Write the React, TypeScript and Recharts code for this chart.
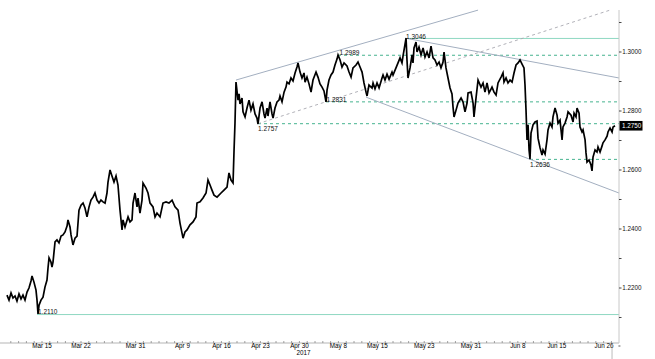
import React from 'react';
import { ComposedChart, Line, XAxis, YAxis, ReferenceLine, ReferenceDot } from 'recharts';

type Pt = [number, number];

// [trading-day index (Mar 9 = 0), GBP/USD price]
const marchPath: Pt[] = [
  [-0.49, 1.2176], [-0.23, 1.2159], [0.03, 1.2183], [0.28, 1.2166], [0.54, 1.2173], [0.79, 1.2156],
  [1.05, 1.218], [1.31, 1.2163], [1.56, 1.2176], [1.82, 1.2159], [2.08, 1.2186], [2.33, 1.22],
  [2.59, 1.2224], [2.72, 1.2241], [2.97, 1.222], [3.23, 1.2193], [3.36, 1.2159], [3.49, 1.2112],
  [3.62, 1.2142], [3.87, 1.2159], [4.13, 1.2169], [4.38, 1.2203], [4.64, 1.2227], [4.77, 1.2268],
  [4.9, 1.2302], [5.15, 1.2288], [5.28, 1.2271], [5.41, 1.2288], [5.67, 1.2356], [5.92, 1.2363],
  [6.18, 1.2353], [6.44, 1.2376], [6.69, 1.238], [6.95, 1.239], [7.21, 1.241], [7.33, 1.2431],
  [7.59, 1.2407], [7.72, 1.238], [7.97, 1.2346], [8.23, 1.2369], [8.49, 1.2376], [8.74, 1.2464],
  [9.0, 1.2481], [9.26, 1.2488], [9.51, 1.2471], [9.77, 1.2441], [10.03, 1.2475], [10.28, 1.2498],
  [10.54, 1.2508], [10.79, 1.2522], [11.05, 1.2498], [11.31, 1.2488], [11.56, 1.2498], [11.82, 1.2492],
  [12.08, 1.2488], [12.33, 1.2522], [12.46, 1.2559], [12.72, 1.26], [12.97, 1.258], [13.23, 1.2559],
  [13.49, 1.258], [13.74, 1.2549], [14.0, 1.2464], [14.26, 1.2397], [14.38, 1.2431], [14.64, 1.2407],
  [15.03, 1.2441], [15.28, 1.2424], [15.54, 1.2431], [15.67, 1.2488], [15.92, 1.2522], [16.18, 1.2475],
  [16.31, 1.2505], [16.56, 1.2454],
];

const aprilPath: Pt[] = [
  [16.82, 1.2498], [16.95, 1.2556], [17.33, 1.2539], [17.59, 1.2522], [17.85, 1.2488], [18.23, 1.2475],
  [18.49, 1.2441], [18.74, 1.2454], [19.13, 1.2441], [19.51, 1.2488], [19.9, 1.2492], [20.28, 1.2488],
  [20.67, 1.2498], [21.05, 1.2475], [21.44, 1.2464], [21.69, 1.242], [21.95, 1.2386], [22.08, 1.2369],
  [22.33, 1.239], [22.59, 1.2397], [22.97, 1.2414], [23.36, 1.2424], [23.74, 1.2441], [23.87, 1.2488],
  [24.26, 1.2492], [24.64, 1.2505], [25.03, 1.2522], [25.28, 1.2566], [25.54, 1.2549], [25.79, 1.2532],
  [26.05, 1.2515], [26.44, 1.2508], [26.95, 1.2522], [27.33, 1.2532], [27.72, 1.2542], [27.97, 1.259],
  [28.23, 1.2566], [28.49, 1.2556], [28.62, 1.2668], [28.74, 1.2759], [28.87, 1.2898], [29.13, 1.2837],
  [29.26, 1.2858], [29.38, 1.2824], [29.64, 1.2844], [29.77, 1.2797], [30.03, 1.278], [30.28, 1.281],
  [30.54, 1.2837], [30.79, 1.2803], [31.05, 1.2824], [31.31, 1.279], [31.56, 1.2776], [31.69, 1.2756],
  [31.95, 1.281], [32.21, 1.2831], [32.46, 1.279], [32.59, 1.2776], [32.85, 1.281], [32.97, 1.2783],
  [33.23, 1.2831], [33.49, 1.279], [33.62, 1.2776], [33.87, 1.281], [34.13, 1.2831], [34.38, 1.2837],
  [34.51, 1.2851], [34.77, 1.2831], [35.03, 1.2864], [35.28, 1.2881], [35.41, 1.2898], [35.67, 1.2892],
  [35.92, 1.2912], [36.18, 1.2902], [36.44, 1.2929], [36.69, 1.2949], [36.82, 1.2963],
];

const mayPath: Pt[] = [
  [37.08, 1.2932], [37.33, 1.2912], [37.59, 1.2929], [37.72, 1.2898], [37.97, 1.2915], [38.23, 1.2892],
  [38.49, 1.2864], [38.74, 1.2905], [39.13, 1.2932], [39.38, 1.2915], [39.64, 1.2892], [39.9, 1.2881],
  [40.15, 1.2868], [40.41, 1.2831], [40.54, 1.2871], [40.79, 1.2905], [41.05, 1.2922], [41.31, 1.2932],
  [41.56, 1.2956], [41.82, 1.2976], [41.95, 1.299], [42.21, 1.2973], [42.46, 1.2949], [42.72, 1.2963],
  [43.1, 1.2953], [43.36, 1.2932], [43.62, 1.2915], [43.87, 1.2946], [44.26, 1.2956], [44.51, 1.2966],
  [44.77, 1.2949], [45.03, 1.2932], [45.28, 1.2895], [45.54, 1.2864], [45.67, 1.2851], [45.92, 1.2888],
  [46.31, 1.2878], [46.44, 1.2895], [46.69, 1.2875], [46.95, 1.2895], [47.21, 1.2878], [47.59, 1.2912],
  [47.72, 1.2922], [47.97, 1.2905], [48.23, 1.2925], [48.49, 1.2908], [48.87, 1.2932], [49.0, 1.2922],
  [49.38, 1.2946], [49.64, 1.2963], [49.9, 1.298], [50.15, 1.2963], [50.28, 1.2986], [50.54, 1.3027],
  [50.67, 1.3047], [50.79, 1.2973], [50.92, 1.2912], [51.18, 1.2946], [51.44, 1.299], [51.56, 1.2963],
  [51.69, 1.3014], [51.95, 1.3034], [52.08, 1.3], [52.33, 1.3017], [52.59, 1.299], [52.85, 1.3014],
  [53.1, 1.2983], [53.36, 1.3], [53.62, 1.298], [53.87, 1.302], [54.13, 1.298], [54.38, 1.2973],
  [54.64, 1.2956], [54.9, 1.2966], [55.15, 1.2946], [55.41, 1.2966], [55.54, 1.3], [55.79, 1.2946],
  [56.05, 1.2912], [56.31, 1.2878], [56.56, 1.2858], [56.69, 1.2814], [56.82, 1.278], [57.08, 1.2803],
  [57.33, 1.2827], [57.72, 1.2844], [57.97, 1.2831], [58.23, 1.2797], [58.49, 1.2827], [58.62, 1.2861],
  [59.0, 1.2864], [59.26, 1.2827], [59.38, 1.278], [59.64, 1.2844],
];

const junePath: Pt[] = [
  [59.9, 1.2905], [60.28, 1.2881], [60.54, 1.2895], [60.79, 1.2864], [61.05, 1.2895], [61.31, 1.2861],
  [61.69, 1.2881], [61.95, 1.2864], [62.21, 1.2854], [62.46, 1.2895], [62.85, 1.2915], [63.1, 1.2929],
  [63.23, 1.2898], [63.49, 1.2912], [63.74, 1.2895], [64.0, 1.2905], [64.26, 1.2898], [64.51, 1.2929],
  [64.77, 1.2956], [65.03, 1.2963], [65.28, 1.2973], [65.54, 1.2959], [65.79, 1.2946], [65.92, 1.2888],
  [66.05, 1.2803], [66.18, 1.2702], [66.31, 1.2753], [66.44, 1.2668], [66.56, 1.2637], [66.69, 1.2725],
  [66.95, 1.2753], [67.21, 1.2763], [67.46, 1.2766], [67.59, 1.2708], [67.85, 1.2675], [68.1, 1.2651],
  [68.23, 1.2668], [68.49, 1.2654], [68.74, 1.2702], [68.87, 1.2736], [69.13, 1.2759], [69.38, 1.2746],
  [69.51, 1.278], [69.77, 1.281], [70.03, 1.2786], [70.15, 1.2759], [70.41, 1.2769], [70.67, 1.2702],
  [70.79, 1.2746], [71.05, 1.2759], [71.31, 1.278], [71.44, 1.2797], [71.82, 1.2786], [72.08, 1.2763],
  [72.21, 1.2793], [72.46, 1.278], [72.59, 1.281], [72.85, 1.2793], [72.97, 1.2746], [73.23, 1.2729],
  [73.36, 1.2736], [73.62, 1.2702], [73.74, 1.2658], [73.87, 1.2627], [74.13, 1.2634], [74.38, 1.2617],
  [74.51, 1.2597], [74.64, 1.2644], [74.9, 1.2668], [75.15, 1.2661], [75.28, 1.2678], [75.54, 1.2661],
  [75.79, 1.2681], [75.92, 1.2692], [76.18, 1.2702], [76.44, 1.2715], [76.56, 1.2729], [76.82, 1.2742],
  [77.08, 1.2729], [77.21, 1.2746], [77.46, 1.275],
];

// x-axis labels (trading-day index of each label)
const tickDays = [4, 9, 16, 22, 27, 32, 37, 42, 47, 53, 59, 65, 70, 77];
const tickLabels = ['Mar 15', 'Mar 22', 'Mar 31', 'Apr 9', 'Apr 16', 'Apr 23', 'Apr 30', 'May 8', 'May 15', 'May 23', 'May 31', 'Jun 8', 'Jun 15', 'Jun 26'];
const yearLabel = '2017';
const yearLabelDay = 37;

// y-axis
const yMajorTicks = [1.22, 1.24, 1.26, 1.28, 1.3];
const yMinorTicks = [1.21, 1.23, 1.25, 1.27, 1.29, 1.31];
const lastPrice = 1.275;

// horizontal levels: value and the day from which it is drawn
const levelValues = [1.3046, 1.2989, 1.2831, 1.2757, 1.2636, 1.211];
const levelStartDays = [50.67, 41.95, 40.41, 31.69, 66.56, 3.36];

// trend lines: [day, price] start and end
const channelTop: Pt[] = [[28.87, 1.2905], [59.9, 1.3142]];
const risingSupport: Pt[] = [[31.69, 1.2757], [76.82, 1.3142]];
const channelBottom: Pt[] = [[45.54, 1.2847], [77.97, 1.2522]];
const fallingResistance: Pt[] = [[50.54, 1.3047], [77.97, 1.2912]];

const X_MIN = -1.385;
const X_MAX = 77.97;
const Y_MIN = 1.20136;
const Y_MAX = 1.31424;

const series = [...marchPath, ...aprilPath, ...mayPath, ...junePath].map(([t, price]) => ({ t, price }));
const allDayTicks = Array.from({ length: 78 }, (_, i) => i);
const yTicks = [...yMajorTicks, ...yMinorTicks, lastPrice];

const FONT = '"Liberation Sans", Arial, sans-serif';

const XTick = (props: any) => {
  const { x, y, payload } = props;
  const i = tickDays.indexOf(payload.value);
  const isLast = i === tickDays.length - 1;
  return (
    <g>
      <line x1={x} x2={x} y1={y - 2} y2={y} stroke="#8a8a8a" strokeWidth={0.8} />
      {i >= 0 && (
        <text
          x={isLast ? x + 2 : x}
          y={y + 4.8}
          textAnchor={isLast ? 'end' : 'middle'}
          fontSize={6.3}
          fontFamily={FONT}
          fill="#000"
        >
          {tickLabels[i]}
        </text>
      )}
      {payload.value === yearLabelDay && (
        <text x={x + 4} y={y + 11.5} textAnchor="middle" fontSize={6.3} fontFamily={FONT} fill="#000">
          {yearLabel}
        </text>
      )}
      {isLast && (
        <g>
          <line x1={x + 0.6} x2={x + 0.6} y1={y + 1} y2={y + 16} stroke="#aaa" strokeWidth={0.8} />
          <line x1={x + 7} x2={x + 9} y1={y + 3} y2={y + 3} stroke="#333" strokeWidth={0.8} />
        </g>
      )}
    </g>
  );
};

const YTick = (props: any) => {
  const { x, y, payload } = props;
  const v = payload.value;
  if (Math.abs(v - lastPrice) < 1e-7) {
    return (
      <g>
        <rect x={x + 0.5} y={y - 4.8} width={23} height={9.6} fill="#000" />
        <text x={x + 3} y={y + 2.2} fontSize={6.3} fontFamily={FONT} fill="#fff">
          {v.toFixed(4)}
        </text>
      </g>
    );
  }
  const major = yMajorTicks.some((m) => Math.abs(m - v) < 1e-7);
  return (
    <g>
      <line x1={x} x2={x + 2.5} y1={y} y2={y} stroke="#333" strokeWidth={0.9} />
      {major && (
        <text x={x + 3.2} y={y + 2.2} fontSize={6.3} fontFamily={FONT} fill="#111">
          {v.toFixed(4)}
        </text>
      )}
    </g>
  );
};

const levelSolidColor = '#8fd8c2';
const levelDashColor = '#45b38f';
const trendColor = '#a3afc0';

const levelLabelOffsets = [0.6, 0, -0.2, 7, 8, -1];
const levelLabelDx = [0, 1.5, 0.5, 0, 0, 1];

export default function App() {
  return (
    <div style={{ position: 'absolute', left: 0, top: 0, width: 655, height: 359, background: '#fff' }}>
      <ComposedChart width={655} height={359} data={series} margin={{ top: 10, right: 0, bottom: 0, left: 0 }}>
        <XAxis
          dataKey="t"
          type="number"
          domain={[X_MIN, X_MAX]}
          allowDataOverflow
          ticks={allDayTicks}
          interval={0}
          tick={<XTick />}
          tickLine={false}
          tickSize={0}
          tickMargin={0}
          height={16}
          axisLine={{ stroke: '#b5b5b5', strokeWidth: 1 }}
        />
        <YAxis
          orientation="right"
          type="number"
          domain={[Y_MIN, Y_MAX]}
          allowDataOverflow
          ticks={yTicks}
          interval={0}
          tick={<YTick />}
          tickLine={false}
          tickSize={0}
          tickMargin={0}
          width={36}
          axisLine={{ stroke: '#c8c8c8', strokeWidth: 1 }}
        />
        {levelValues.map((v, i) => {
          const solid = i === 0 || i === levelValues.length - 1;
          return (
            <ReferenceLine
              key={'lv' + i}
              segment={[{ x: levelStartDays[i], y: v }, { x: X_MAX, y: v }]}
              stroke={solid ? levelSolidColor : levelDashColor}
              strokeWidth={1}
              strokeDasharray={solid ? undefined : '3 3'}
              ifOverflow="visible"
            />
          );
        })}
        <ReferenceLine segment={[{ x: channelTop[0][0], y: channelTop[0][1] }, { x: channelTop[1][0], y: channelTop[1][1] }]} stroke={trendColor} strokeWidth={1} ifOverflow="visible" />
        <ReferenceLine segment={[{ x: risingSupport[0][0], y: risingSupport[0][1] }, { x: risingSupport[1][0], y: risingSupport[1][1] }]} stroke="#a8a8b0" strokeWidth={0.9} strokeDasharray="3 3" ifOverflow="visible" />
        <ReferenceLine segment={[{ x: channelBottom[0][0], y: channelBottom[0][1] }, { x: channelBottom[1][0], y: channelBottom[1][1] }]} stroke={trendColor} strokeWidth={1} ifOverflow="visible" />
        <ReferenceLine segment={[{ x: fallingResistance[0][0], y: fallingResistance[0][1] }, { x: fallingResistance[1][0], y: fallingResistance[1][1] }]} stroke={trendColor} strokeWidth={1} ifOverflow="visible" />
        <Line
          dataKey="price"
          type="linear"
          stroke="#000"
          strokeWidth={1.7}
          strokeLinejoin="miter"
          dot={false}
          activeDot={false}
          isAnimationActive={false}
        />
        {levelValues.map((v, i) => (
          <ReferenceDot
            key={'lb' + i}
            x={levelStartDays[i]}
            y={v}
            r={0}
            ifOverflow="visible"
            shape={(p: any) => (
              <text
                x={p.cx + levelLabelDx[i]}
                y={p.cy + levelLabelOffsets[i]}
                fontSize={6.5}
                fontFamily={FONT}
                fill="#111"
              >
                {v.toFixed(4)}
              </text>
            )}
          />
        ))}
      </ComposedChart>
    </div>
  );
}
